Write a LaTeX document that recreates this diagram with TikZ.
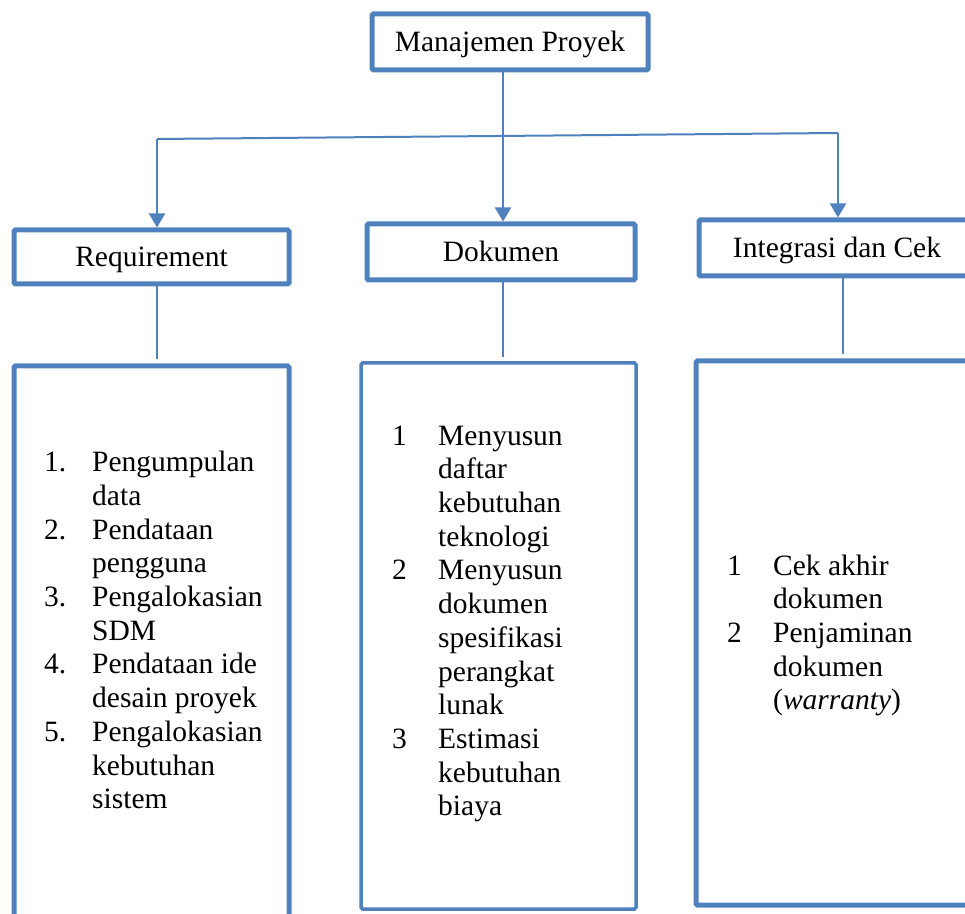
\documentclass[tikz,border=0pt]{standalone}
\usepackage{fontspec}
\setmainfont{Liberation Serif}
\usetikzlibrary{arrows.meta}
\definecolor{garisbiru}{RGB}{79,129,189}
\tikzset{
  kotak/.style={draw=garisbiru, line width=5pt, rounded corners=1.5pt, inner sep=0pt},
  judul/.style={kotak, text height=23pt, text depth=4pt},
  garis/.style={draw=garisbiru, line width=2pt},
  panah/.style={garis, -{Triangle[width=16pt,length=14pt]}},
  daftar/.style={anchor=north west, inner sep=0pt}
}
\begin{document}
\begin{tikzpicture}[x=1pt,y=1pt,font=\fontsize{29.5}{33.7}\selectfont]
\useasboundingbox (0,0) rectangle (965,913);
\node[judul, minimum width=276pt, minimum height=56pt] (proyek) at (510,871) {Manajemen Proyek};
\node[judul, minimum width=275pt, minimum height=54pt] (req) at (151.5,656) {Requirement};
\node[judul, minimum width=268pt, minimum height=56pt] (dok) at (501,661) {Dokumen};
\node[judul, minimum width=276pt, minimum height=56pt] (integ) at (837,665) {Integrasi dan Cek};
\node[kotak, minimum width=275pt, minimum height=559pt] (reqlist) at (151.5,267.5) {};
\node[kotak, line width=3.5pt, minimum width=275pt, minimum height=546pt] (doklist) at (498.5,277) {};
\node[kotak, minimum width=279pt, minimum height=544pt] (integlist) at (835.5,280) {};

% cabang
\coordinate (kiri) at (157,774);
\coordinate (kanan) at (838,780);
\coordinate (tengah) at (503,0);
\coordinate (kanan2) at (843,0);
\draw[garis] (kiri) -- (kanan);
\draw[panah] (proyek.south -| tengah) -- (dok.north -| tengah);
\draw[panah] (kiri) -- (kiri |- req.north);
\draw[panah] (kanan) -- (kanan |- integ.north);
\draw[garis] (req.south -| kiri) -- ([yshift=4pt]reqlist.north -| kiri);
\draw[garis] (dok.south -| tengah) -- ([yshift=4pt]doklist.north -| tengah);
\draw[garis] (integ.south -| kanan2) -- ([yshift=4pt]integlist.north -| kanan2);

% isi
\node[daftar] (reqitem) at (44,465) {\begin{tabular}{@{}p{48pt}@{}l@{}}
1. & Pengumpulan\\ & data\\
2. & Pendataan\\ & pengguna\\
3. & Pengalokasian\\ & SDM\\
4. & Pendataan ide\\ & desain proyek\\
5. & Pengalokasian\\ & kebutuhan\\ & sistem
\end{tabular}};
\node[daftar] (dokitem) at (392,491.6) {\begin{tabular}{@{}p{46pt}@{}l@{}}
1 & Menyusun\\ & daftar\\ & kebutuhan\\ & teknologi\\
2 & Menyusun\\ & dokumen\\ & spesifikasi\\ & perangkat\\ & lunak\\
3 & Estimasi\\ & kebutuhan\\ & biaya
\end{tabular}};
\node[daftar] (integitem) at (727,361.6) {\begin{tabular}{@{}p{46pt}@{}l@{}}
1 & Cek akhir\\ & dokumen\\
2 & Penjaminan\\ & dokumen\\ & (\textit{warranty})
\end{tabular}};
\end{tikzpicture}
\end{document}
